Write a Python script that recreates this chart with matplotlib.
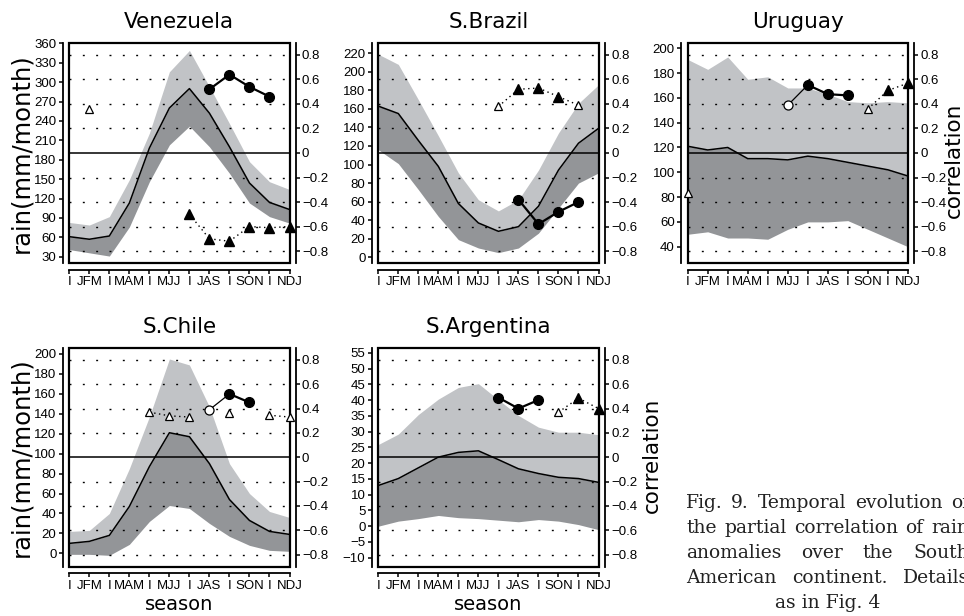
import numpy as np
import matplotlib
matplotlib.use('Agg')
import matplotlib.pyplot as plt
from matplotlib.patches import Rectangle

plt.rcParams['font.family'] = ['Liberation Sans', 'DejaVu Sans']

nan = np.nan
months = list(range(12))
season_labels = ['I', 'JFM', 'I', 'MAM', 'I', 'MJJ', 'I', 'JAS', 'I', 'SON', 'I', 'NDJ']

# rainfall climatology (mm/month): mean, lower and upper envelope
ven_mean = [61, 57, 62, 113, 198, 260, 290, 252, 200, 144, 114, 103]
ven_upper = [83, 79, 92, 149, 221, 316, 349, 293, 236, 177, 146, 134]
ven_lower = [41, 36, 31, 76, 146, 203, 232, 200, 159, 113, 92, 82]

bra_mean = [163, 155, 126, 98, 58, 37, 28, 33, 55, 94, 123, 139]
bra_upper = [219, 208, 170, 131, 91, 62, 50, 62, 94, 134, 166, 186]
bra_lower = [116, 101, 73, 44, 19, 10, 5, 10, 26, 53, 80, 91]

uru_mean = [121, 118, 120, 111, 111, 110, 113, 111, 108, 105, 102, 97]
uru_upper = [191, 183, 193, 175, 177, 168, 168, 163, 157, 156, 157, 156]
uru_lower = [50, 52, 47, 47, 46, 54, 60, 60, 61, 54, 47, 40]

chi_mean = [10, 12, 18, 47, 87, 121, 117, 90, 54, 33, 22, 19]
chi_upper = [22, 23, 40, 85, 137, 195, 189, 147, 90, 60, 42, 36]
chi_lower = [-1, -1, -2, 9, 32, 48, 45, 30, 17, 8, 3, 2]

arg_mean = [12.9, 15.1, 18.5, 21.9, 23.4, 23.9, 21.1, 18.2, 16.7, 15.5, 15.1, 13.9]
arg_upper = [25.9, 29.2, 35.4, 40.3, 44.0, 45.2, 40.1, 35.1, 31.4, 29.8, 29.8, 29.0]
arg_lower = [0.0, 1.6, 2.4, 3.4, 2.7, 2.4, 1.9, 1.4, 2.1, 1.6, 0.5, -1.1]

# partial correlations (circles / triangles), 1 = filled marker, 0 = open
ven_circ = [nan, nan, nan, nan, nan, nan, nan, 0.52, 0.64, 0.54, 0.46, nan]
ven_circ_fill = [0, 0, 0, 0, 0, 0, 0, 1, 1, 1, 1, 0]
ven_tri = [nan, 0.36, nan, nan, nan, nan, -0.50, -0.70, -0.72, -0.60, -0.61, -0.60]
ven_tri_fill = [0, 0, 0, 0, 0, 0, 1, 1, 1, 1, 1, 1]

bra_circ = [nan, nan, nan, nan, nan, nan, nan, -0.38, -0.58, -0.48, -0.40, nan]
bra_circ_fill = [0, 0, 0, 0, 0, 0, 0, 1, 1, 1, 1, 0]
bra_tri = [nan, nan, nan, nan, nan, nan, 0.38, 0.52, 0.53, 0.46, 0.39, nan]
bra_tri_fill = [0, 0, 0, 0, 0, 0, 0, 1, 1, 1, 0, 0]

uru_circ = [nan, nan, nan, nan, nan, 0.39, 0.555, 0.48, 0.47, nan, nan, nan]
uru_circ_fill = [0, 0, 0, 0, 0, 0, 1, 1, 1, 0, 0, 0]
uru_tri = [-0.33, nan, nan, nan, nan, nan, nan, nan, nan, 0.36, 0.51, 0.57]
uru_tri_fill = [0, 0, 0, 0, 0, 0, 0, 0, 0, 0, 1, 1]

chi_circ = [nan, nan, nan, nan, nan, nan, nan, 0.39, 0.52, 0.45, nan, nan]
chi_circ_fill = [0, 0, 0, 0, 0, 0, 0, 0, 1, 1, 0, 0]
chi_tri = [nan, nan, nan, nan, 0.37, 0.34, 0.33, nan, 0.365, nan, 0.345, 0.33]
chi_tri_fill = [0] * 12

arg_circ = [nan, nan, nan, nan, nan, nan, 0.49, 0.40, 0.47, nan, nan, nan]
arg_circ_fill = [0, 0, 0, 0, 0, 0, 1, 1, 1, 0, 0, 0]
arg_tri = [nan, nan, nan, nan, nan, nan, nan, nan, nan, 0.37, 0.485, 0.40]
arg_tri_fill = [0, 0, 0, 0, 0, 0, 0, 0, 0, 0, 1, 1]

corr_ticks = [-0.8, -0.6, -0.4, -0.2, 0, 0.2, 0.4, 0.6, 0.8]

caption_lines = ['Fig. 9. Temporal evolution of',
                 'the partial correlation of rain',
                 'anomalies over the South',
                 'American continent. Details',
                 'as in Fig. 4']

W, H = 964, 616
light = '#c1c3c6'
dark = '#939598'
title_font = ['DejaVu Sans']


def corr_series(ax, vals, fill, marker, ms, thick, thin, ls):
    vals = np.array(vals, float)
    fill = np.array(fill, bool)
    # connecting segments, heavier between two filled markers
    for i in range(11):
        if np.isnan(vals[i]) or np.isnan(vals[i + 1]):
            continue
        lw = thick if (fill[i] and fill[i + 1]) else thin
        ax.plot(months[i:i + 2], vals[i:i + 2], color='black', lw=lw, ls=ls,
                clip_on=False, zorder=4)
    full = np.where(fill, vals, nan)
    hollow = np.where(~fill, vals, nan)
    ax.plot(months, full, ls='none', marker=marker, ms=ms, mfc='black',
            mec='black', clip_on=False, zorder=5)
    ax.plot(months, hollow, ls='none', marker=marker, ms=ms - 0.5, mfc='white',
            mec='black', mew=0.9, clip_on=False, zorder=5)


def panel(box, title, mean, lower, upper, circ, circ_fill, tri, tri_fill,
          ylim, yticks, rain_label=False, corr_label=None, season=False):
    left, top, bottom = box
    ax = fig.add_axes([left / W, 1 - bottom / H, 220.2 / W, (bottom - top) / H])
    ax.fill_between(months, mean, upper, color=light, lw=0)
    ax.fill_between(months, lower, mean, color=dark, lw=0)
    ax.plot(months, mean, color='black', lw=1.1)
    ax.set_xlim(0, 11)
    ax.set_ylim(*ylim)
    ax.set_yticks(yticks)
    ax.set_xticks(months)
    ax.set_xticklabels(season_labels)
    for s in ['top', 'right']:
        ax.spines[s].set_visible(False)
    ax.spines['left'].set_position(('outward', 4.8))
    ax.spines['bottom'].set_position(('outward', 4.8))
    ax.spines['left'].set_linewidth(1.3)
    ax.spines['bottom'].set_linewidth(1.3)
    ax.tick_params(axis='both', direction='out', length=3, width=1.1,
                   labelsize=9.5, pad=1.5)
    ax.add_patch(Rectangle((0, 0), 1, 1, transform=ax.transAxes, fill=False,
                           lw=1.6, ec='black', clip_on=False, zorder=10))

    ax2 = ax.twinx()
    ax2.set_ylim(-0.9, 0.9)
    ax2.set_yticks(corr_ticks)
    ax2.set_yticklabels(['0' if v == 0 else ('%.1f' % v).replace('-', '\u2212')
                         for v in corr_ticks])
    for s in ['top', 'left', 'bottom']:
        ax2.spines[s].set_visible(False)
    ax2.spines['right'].set_position(('outward', 4.5))
    ax2.spines['right'].set_linewidth(1.3)
    ax2.tick_params(axis='y', direction='out', length=3, width=1.1,
                    labelsize=9.5, pad=1.5)
    for v in corr_ticks:
        if v == 0:
            ax2.axhline(0, color='black', lw=1.1, zorder=3)
        else:
            ax2.axhline(v, color='black', lw=1.0, ls=(0, (1.4, 8.2)), zorder=3)
    corr_series(ax2, tri, tri_fill, '^', 6.5, 1.0, 1.0, (0, (1, 2.5)))
    corr_series(ax2, circ, circ_fill, 'o', 7, 1.6, 0.9, '-')

    cx = (left + 110) / W
    fig.text(cx, 1 - (top - 21) / H, title, ha='center', va='center',
             fontsize=15.5, family=title_font)
    if rain_label:
        fig.text(21 / W, 1 - (top + bottom) / 2 / H, 'rain(mm/month)', rotation=90,
                 ha='center', va='center', fontsize=17.5, family=title_font)
    if corr_label:
        lx, ly = corr_label
        fig.text(lx / W, 1 - ly / H, 'correlation', rotation=90,
                 ha='center', va='center', fontsize=15.5, family=title_font)
    if season:
        fig.text(cx, 1 - (bottom + 38) / H, 'season', ha='center', va='center',
                 fontsize=14, family=title_font)
    return ax


fig = plt.figure(figsize=(W / 100, H / 100), dpi=100)

panel((69.3, 42.7, 263.3), 'Venezuela', ven_mean, ven_lower, ven_upper,
      ven_circ, ven_circ_fill, ven_tri, ven_tri_fill,
      (19.8, 361), list(range(30, 361, 30)), rain_label=True)
panel((378.3, 42.7, 263.3), 'S.Brazil', bra_mean, bra_lower, bra_upper,
      bra_circ, bra_circ_fill, bra_tri, bra_tri_fill,
      (-6.5, 231.4), list(range(0, 221, 20)))
panel((687.7, 42.7, 263.3), 'Uruguay', uru_mean, uru_lower, uru_upper,
      uru_circ, uru_circ_fill, uru_tri, uru_tri_fill,
      (26.6, 204.5), list(range(40, 201, 20)), corr_label=(954, 160))
panel((69.3, 347.7, 566.7), 'S.Chile', chi_mean, chi_lower, chi_upper,
      chi_circ, chi_circ_fill, chi_tri, chi_tri_fill,
      (-13.4, 206.3), list(range(0, 201, 20)), rain_label=True, season=True)
panel((378.3, 347.7, 566.7), 'S.Argentina', arg_mean, arg_lower, arg_upper,
      arg_circ, arg_circ_fill, arg_tri, arg_tri_fill,
      (-12.85, 56.6), list(range(-10, 56, 5)), corr_label=(652, 455), season=True)

# justified caption block
renderer = fig.canvas.get_renderer()
x0, x1 = 686, 969
baselines = [508, 533, 558, 583, 608]
for line, yb in zip(caption_lines, baselines):
    y = 1 - yb / H
    if line == caption_lines[-1]:
        fig.text((x0 + x1) / 2 / W, y, line, ha='center', va='baseline',
                 fontsize=13.5, family=['DejaVu Serif'], color='#222222')
        continue
    words = line.split()
    texts = [fig.text(0, y, w, va='baseline', fontsize=13.5,
                      family=['DejaVu Serif'], color='#222222') for w in words]
    widths = [t.get_window_extent(renderer).width for t in texts]
    gap = (x1 - x0 - sum(widths)) / (len(words) - 1)
    x = x0
    for t, w in zip(texts, widths):
        t.set_x(x / W)
        x += w + gap

fig.savefig('out.png', dpi=100)
